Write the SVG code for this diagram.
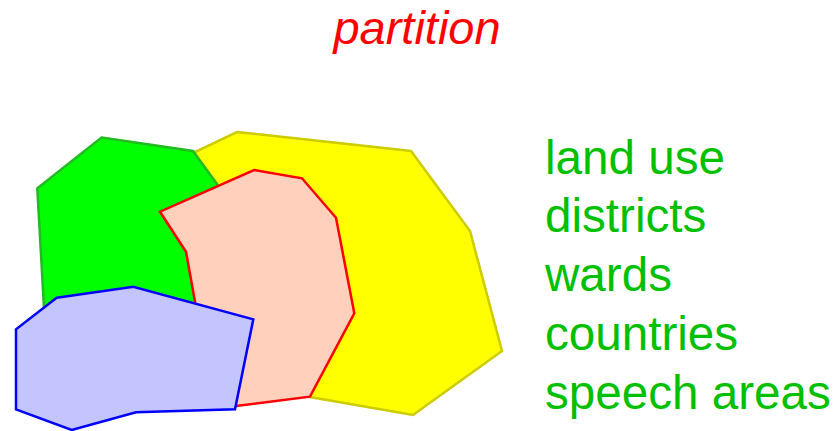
<svg xmlns="http://www.w3.org/2000/svg" width="836" height="431" viewBox="0 0 836 431">
  <style>
    .region { stroke-width: 2.5; stroke-linejoin: miter; }
    .title { font-family: "Liberation Sans", Arial, sans-serif; font-size: 47px; font-style: italic; fill: #ff0000; }
    .label { font-family: "Liberation Sans", Arial, sans-serif; font-size: 47.6px; fill: #00c000; }
  </style>
  <rect width="836" height="431" fill="#ffffff"/>

  <text class="title" x="417" y="44" text-anchor="middle">partition</text>

  <!-- overlapping partitions, back to front -->
  <g id="region-yellow">
    <polygon class="region" fill="#ffff00" stroke="#cccc00"
      points="237,132 411,151 470,231 502,351 413,415 310,397 205,260 195,152"/>
  </g>
  <g id="region-green">
    <polygon class="region" fill="#00ff00" stroke="#22bb22"
      points="101.5,137.5 193,151 217,184 230,260 200,320 44,308 37.3,188.3"/>
  </g>
  <g id="region-red">
    <polygon class="region" fill="#ffd0bb" stroke="#ff0000"
      points="254,170 302,178.3 336,217.7 354.3,313.3 310,396.7 236.7,406 200,340 195,301.7 186,251.7 160,211.7"/>
  </g>
  <g id="region-blue">
    <polygon class="region" fill="#c4c4ff" stroke="#0000ff"
      points="56.7,297.7 133.3,286.7 253.3,319.3 235,409.3 136,412.3 71.7,430 16,409.3 16,329.3"/>
  </g>

  <g id="legend">
    <text class="label" x="545" y="174">land use</text>
    <text class="label" x="545" y="232">districts</text>
    <text class="label" x="545" y="291">wards</text>
    <text class="label" x="545" y="350">countries</text>
    <text class="label" x="545" y="409">speech areas</text>
  </g>
</svg>
